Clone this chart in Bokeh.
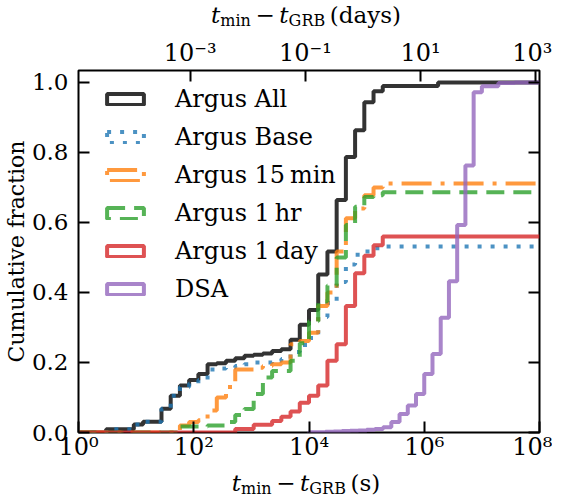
import numpy as np
from bokeh.plotting import figure
from bokeh.layouts import column
from bokeh.models import (Range1d, LogScale, LogAxis, LinearAxis, FixedTicker,
                          CustomJSTickFormatter, PrintfTickFormatter, Div,
                          Legend, LegendItem)
from bokeh.embed import file_html
from bokeh.resources import INLINE

# ---------------- data ----------------
# histogram bin edges (seconds)
argus_edges = np.logspace(0, 8, 51)
dsa_edges = np.logspace(4, 8, 29)

# cumulative fraction per bin
argus_all = [0, 0, 0, 0.009, 0.009, 0.009, 0.023, 0.031, 0.031, 0.068,
             0.105, 0.134, 0.150, 0.167, 0.195, 0.198, 0.205, 0.212, 0.219, 0.222,
             0.226, 0.233, 0.238, 0.265, 0.308, 0.350, 0.451, 0.517, 0.664, 0.787,
             0.863, 0.943, 0.975, 0.990, 0.990, 0.990, 0.990, 0.990, 0.990, 1.0,
             1.0, 1.0, 1.0, 1.0, 1.0, 1.0, 1.0, 1.0, 1.0, 1.0]
argus_base = [0, 0, 0, 0.009, 0.009, 0.009, 0.023, 0.031, 0.031, 0.068,
              0.105, 0.130, 0.140, 0.150, 0.180, 0.183, 0.186, 0.190, 0.195, 0.200,
              0.200, 0.205, 0.210, 0.230, 0.250, 0.270, 0.330, 0.370, 0.430, 0.480,
              0.508, 0.517, 0.526, 0.531, 0.531, 0.531, 0.531, 0.531, 0.531, 0.531,
              0.531, 0.531, 0.531, 0.531, 0.531, 0.531, 0.531, 0.531, 0.531, 0.531]
argus_15min = [0, 0, 0, 0, 0, 0, 0, 0, 0, 0,
               0, 0.020, 0.030, 0.035, 0.063, 0.100, 0.130, 0.180, 0.180, 0.185,
               0.190, 0.195, 0.200, 0.252, 0.261, 0.285, 0.361, 0.400, 0.517, 0.612,
               0.640, 0.678, 0.700, 0.711, 0.711, 0.711, 0.711, 0.711, 0.711, 0.711,
               0.711, 0.711, 0.711, 0.711, 0.711, 0.711, 0.711, 0.711, 0.711, 0.711]
argus_1hr = [0, 0, 0, 0, 0, 0, 0, 0, 0, 0,
             0, 0.017, 0.017, 0.017, 0.020, 0.020, 0.030, 0.050, 0.067, 0.110,
             0.157, 0.176, 0.176, 0.205, 0.255, 0.318, 0.375, 0.420, 0.500, 0.593,
             0.645, 0.673, 0.678, 0.686, 0.686, 0.686, 0.686, 0.686, 0.686, 0.686,
             0.686, 0.686, 0.686, 0.686, 0.686, 0.686, 0.686, 0.686, 0.686, 0.686]
argus_1day = [0, 0, 0, 0, 0, 0, 0, 0, 0, 0,
              0, 0, 0, 0, 0, 0, 0, 0.010, 0.010, 0.022,
              0.022, 0.033, 0.045, 0.060, 0.085, 0.105, 0.134, 0.205, 0.252, 0.361,
              0.455, 0.505, 0.535, 0.560, 0.560, 0.560, 0.560, 0.560, 0.560, 0.560,
              0.560, 0.560, 0.560, 0.560, 0.560, 0.560, 0.560, 0.560, 0.560, 0.560]
dsa = [0.001, 0.001, 0.002, 0.003, 0.004, 0.005, 0.006, 0.008, 0.010, 0.015,
       0.030, 0.053, 0.077, 0.110, 0.167, 0.224, 0.328, 0.432, 0.593, 0.763,
       0.972, 0.989, 0.989, 0.998, 0.998, 1.0, 1.0, 1.0]

labels = ["Argus All", "Argus Base", "Argus 15\u2009min", "Argus 1\u2009hr",
          "Argus 1\u2009day", "DSA"]
x_ticks = [1e0, 1e2, 1e4, 1e6, 1e8]
day_ticks = [1e-3, 1e-1, 1e1, 1e3]
y_ticks = [0.0, 0.2, 0.4, 0.6, 0.8, 1.0]

series = [
    (argus_edges, argus_all, "#000000", "solid"),
    (argus_edges, argus_base, "#1f77b4", "4 9"),
    (argus_edges, argus_15min, "#ff7f0e", "30 9 4 9"),
    (argus_edges, argus_1hr, "#2ca02c", "18 9"),
    (argus_edges, argus_1day, "#d62728", "solid"),
    (dsa_edges, dsa, "#9467bd", "solid"),
]

FONT = "DejaVu Serif"

p = figure(width=552, height=437, x_axis_type="log",
           x_range=Range1d(1, 1e8), y_range=Range1d(0, 1.034),
           output_backend="svg", toolbar_location=None,
           min_border_left=73, min_border_right=13,
           min_border_top=39, min_border_bottom=36, margin=0)
p.grid.visible = False
p.outline_line_color = "black"
p.outline_line_width = 2
p.outline_line_alpha = 1.0

sup = CustomJSTickFormatter(code="""
const s = {"-":"\u207b","0":"\u2070","1":"\u00b9","2":"\u00b2","3":"\u00b3","4":"\u2074",
           "5":"\u2075","6":"\u2076","7":"\u2077","8":"\u2078","9":"\u2079"};
const e = Math.round(Math.log10(tick));
return "10" + String(e).split("").map(c => s[c]).join("");
""")

def style_axis(ax):
    ax.axis_line_color = None
    ax.major_tick_in = 11
    ax.major_tick_out = 0
    ax.major_tick_line_width = 2
    ax.major_tick_line_color = "black"
    ax.minor_tick_in = 0
    ax.minor_tick_out = 0
    ax.major_label_text_font = FONT
    ax.major_label_text_font_size = "24px"
    ax.major_label_text_color = "black"

xa = p.xaxis[0]
xa.ticker = FixedTicker(ticks=x_ticks, minor_ticks=[])
xa.formatter = sup
style_axis(xa)
xa.major_label_standoff = 0

ya = p.yaxis[0]
ya.ticker = FixedTicker(ticks=y_ticks, minor_ticks=[])
ya.formatter = PrintfTickFormatter(format="%.1f")
style_axis(ya)
ya.major_label_text_font_size = "23px"
ya.major_label_standoff = 10
ya.axis_label = "Cumulative fraction"
ya.axis_label_text_font = FONT
ya.axis_label_text_font_style = "normal"
ya.axis_label_text_font_size = "22px"
ya.axis_label_text_color = "black"
ya.axis_label_standoff = 0

p.extra_x_ranges = {"days": Range1d(1 / 86400, 1e8 / 86400)}
p.extra_x_scales = {"days": LogScale()}
top = LogAxis(x_range_name="days", ticker=FixedTicker(ticks=day_ticks, minor_ticks=[]),
              formatter=sup)
style_axis(top)
top.major_label_standoff = 4
p.add_layout(top, "above")

right = LinearAxis(ticker=FixedTicker(ticks=y_ticks, minor_ticks=[]),
                   formatter=CustomJSTickFormatter(code="return ''"))
style_axis(right)
right.major_label_standoff = 0
right.major_label_text_font_size = "1px"
p.add_layout(right, "right")

items = []
for (edges, vals, color, dash), lab in zip(series, labels):
    e = np.asarray(edges)
    v = np.asarray(vals)
    xs = np.repeat(e, 2)[:-1]
    ys = np.concatenate([[0.0], np.repeat(v, 2)])
    p.line(xs, ys, line_color=color, line_alpha=0.8, line_width=4, line_dash=dash)
    # legend-only rectangle (no drawable geometry: NaN coordinates)
    q = p.quad(left=[np.nan], right=[np.nan], top=[np.nan], bottom=[np.nan],
               fill_alpha=0, line_color=color, line_alpha=0.8, line_width=4,
               line_dash=dash)
    items.append(LegendItem(label=lab, renderers=[q]))

legend = Legend(items=items, location=(24, 128), padding=0, margin=0,
                border_line_color=None, background_fill_alpha=0,
                glyph_width=46, glyph_height=14, label_standoff=27,
                label_text_font=FONT, label_text_font_size="24px",
                label_text_color="black",
                label_height=30, spacing=8)
p.add_layout(legend)

# axis titles (with subscripts) as HTML text above and below the figure
SUB = 'style="font-size:16px; vertical-align:-3px; line-height:0"'
def title_html(unit):
    return ('<span style="white-space:nowrap">'
            f'<i>t</i><span {SUB}>min</span>&#8201;&minus;&#8201;'
            f'<i>t</i><span {SUB}>GRB</span>&#8201;({unit})</span>')

def title_style(lh):
    return {"font-family": FONT, "font-size": "23px", "text-align": "center",
            "line-height": f"{lh}px", "color": "black", "overflow": "visible"}

top_div = Div(text=title_html("days"), width=466, height=31,
              margin=(0, 0, 0, 73), styles=title_style(31))
bottom_div = Div(text=title_html("s"), width=466, height=30,
                 margin=(0, 0, 0, 73), styles=title_style(30))

layout = column(top_div, p, bottom_div, spacing=0)

open("out.html", "w").write(file_html(layout, INLINE))
